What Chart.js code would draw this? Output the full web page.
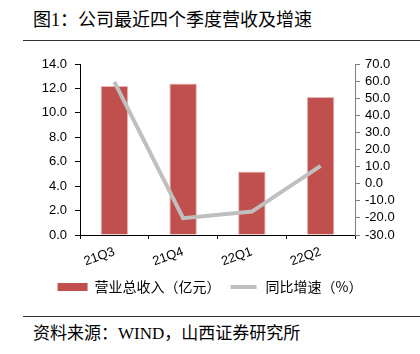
<!DOCTYPE html>
<html>
<head>
<meta charset="utf-8">
<script src="https://cdn.jsdelivr.net/npm/chart.js@4"></script>
<style>
  body { margin: 0; background: #fff; width: 420px; height: 354px; position: relative; overflow: hidden; }
  .title { position: absolute; left: 33px; top: 10px; font: 18px/20px "Liberation Serif", "Noto Sans CJK SC", serif; color: #000; }
  .rule { position: absolute; left: 23px; right: 0; height: 1px; background: #333; }
  .note { position: absolute; left: 33px; top: 324px; font: 17px/20px "Liberation Serif", "Noto Sans CJK SC", serif; color: #000; }
  #wrap { position: absolute; left: 0; top: 0; width: 420px; height: 304px; }
</style>
</head>
<body>
<div class="title">图1：公司最近四个季度营收及增速</div>
<div class="rule" style="top:40px"></div>
<div id="wrap"><canvas id="chart"></canvas></div>
<div class="rule" style="top:316px"></div>
<div class="note">资料来源：WIND，山西证券研究所</div>
<script>
// 公司最近四个季度营收及增速
var quarters = ["21Q3", "21Q4", "22Q1", "22Q2"];
var revenue = [12.2, 12.4, 5.2, 11.3];      // 营业总收入（亿元）
var growth = [59.6, -20.2, -16.3, 10.4];    // 同比增速（%）

var tickFont = { family: "'Liberation Sans', Arial, sans-serif", size: 13 };

var ctx = document.getElementById("chart").getContext("2d");
var chart = new Chart(ctx, {
    type: 'bar',
    data: {
        labels: quarters,
        datasets: [{
            type: 'line',
            label: "同比增速（%）",
            data: growth,
            yAxisID: 'y1',
            borderColor: "#BFBFBF",
            backgroundColor: "#BFBFBF",
            borderWidth: 4,
            pointRadius: 0,
            tension: 0,
            order: 0
        }, {
            label: "营业总收入（亿元）",
            data: revenue,
            yAxisID: 'y',
            backgroundColor: "#C0504D",
            borderColor: "#E6B9B8",
            borderWidth: 1,
            barPercentage: 0.4,
            categoryPercentage: 1,
            order: 1
        }]
    },
    options: {
        responsive: true,
        maintainAspectRatio: false,
        animation: false,
        layout: { padding: { top: 64, left: 0, right: 0, bottom: 0 } },
        plugins: {
            tooltip: { enabled: false },
            legend: {
                position: 'bottom',
                reverse: true,
                labels: {
                    boxWidth: 30,
                    boxHeight: 8,
                    padding: 8,
                    color: "#000",
                    font: { family: "'Noto Sans CJK SC', sans-serif", size: 14 },
                    generateLabels: function (c) {
                        return c.data.datasets.map(function (ds, i) {
                            var isLine = ds.type === 'line';
                            return {
                                text: ds.label,
                                fillStyle: isLine ? "#BFBFBF" : "#C0504D",
                                strokeStyle: "#fff",
                                lineWidth: isLine ? 4 : 0,
                                datasetIndex: i,
                                hidden: false
                            };
                        });
                    }
                }
            }
        },
        scales: {
            x: {
                afterFit: function (s) { s.height = 37; },
                grid: { display: true, drawOnChartArea: false, offset: true, color: "#000", tickLength: 4 },
                border: { color: "#000", width: 1 },
                ticks: { color: "#000", font: tickFont, minRotation: 20, maxRotation: 20, padding: 5 }
            },
            y: {
                position: 'left',
                min: 0, max: 14,
                afterFit: function (s) { s.width = 80; },
                grid: { drawOnChartArea: false, color: "#000", tickLength: 5 },
                border: { color: "#000", width: 1 },
                ticks: {
                    stepSize: 2, autoSkip: false, color: "#000", font: tickFont, padding: 8,
                    callback: function (v) { return v.toFixed(1); }
                }
            },
            y1: {
                position: 'right',
                min: -30, max: 70,
                afterFit: function (s) { s.width = 65; },
                grid: { drawOnChartArea: false, color: "#808080", tickLength: 5 },
                border: { color: "#808080", width: 1 },
                ticks: {
                    stepSize: 10, autoSkip: false, color: "#000", font: tickFont, padding: 5,
                    callback: function (v) { return v.toFixed(1); }
                }
            }
        }
    }
});
</script>
</body>
</html>
